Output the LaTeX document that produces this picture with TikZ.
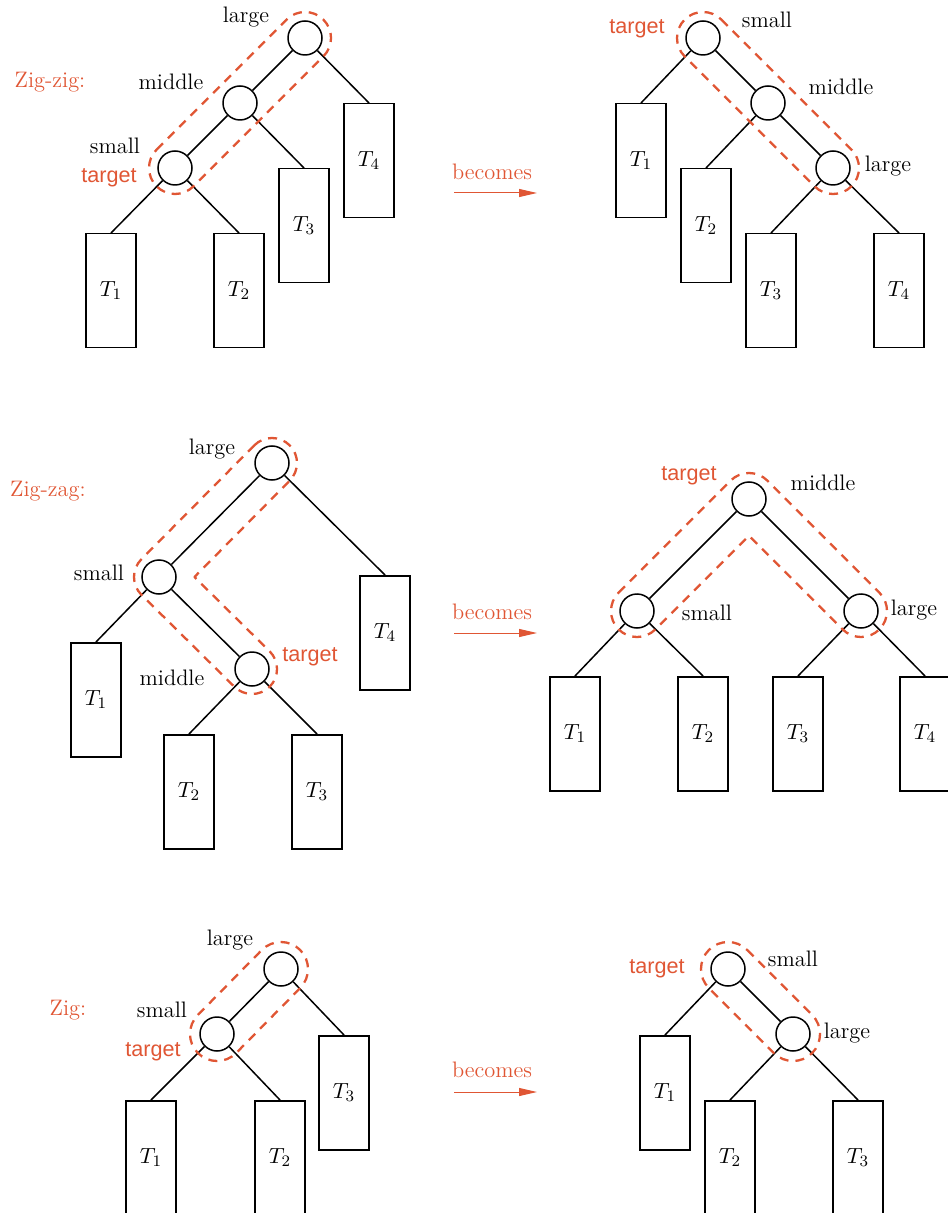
\documentclass[tikz,border=0pt]{standalone}
\usepackage{fontspec}
\setsansfont{Liberation Sans}
\usetikzlibrary{arrows.meta,calc}
\definecolor{splay}{RGB}{224,86,52}

\begin{document}
\begin{tikzpicture}[x=0.5pt,y=0.5pt,>={Triangle[length=9pt,width=4pt]},
  knot/.style={circle,draw,line width=0.75pt,minimum size=17pt,inner sep=0pt},
  subtree/.style={draw,line width=0.75pt,anchor=north,minimum width=25pt,minimum height=57pt,inner sep=0pt,font=\fontsize{11.2}{13}\selectfont},
  lbl/.style={font=\fontsize{11.2}{13}\selectfont},
  hot/.style={text=splay,font=\sffamily\fontsize{10.8}{13}\selectfont},
  zone/.style={draw=splay,line width=1.15pt,dash pattern=on 4.5pt off 3.5pt,line join=round},
  link/.style={line width=0.75pt}]
  \useasboundingbox (0,0) rectangle (947,-1213);

  % Zig-zig 左
  \node[lbl,text=splay] (zz) at (50,-82) {Zig-zig:};
  \node[knot] (zzL-l) at (305,-38) {};
  \node[knot] (zzL-m) at (240,-103) {};
  \node[knot] (zzL-s) at (175,-168) {};
  \node[subtree] (zzL-t1) at (111,-233) {$T_1$};
  \node[subtree] (zzL-t2) at (239,-233) {$T_2$};
  \node[subtree] (zzL-t3) at (304,-168) {$T_3$};
  \node[subtree] (zzL-t4) at (369,-103) {$T_4$};
  \draw[link] (zzL-l) -- (zzL-m) -- (zzL-s);
  \draw[link] (zzL-s) -- (zzL-t1.north);
  \draw[link] (zzL-s) -- (zzL-t2.north);
  \draw[link] (zzL-m) -- (zzL-t3.north);
  \draw[link] (zzL-l) -- (zzL-t4.north);
  \node[lbl] (zzL-nl) at (246,-17) {large};
  \node[lbl] (zzL-nm) at (171,-82) {middle};
  \node[lbl] (zzL-ns) at (115,-146) {small};
  \node[hot] (zzL-tg) at (109,-178) {target};
  \draw[zone] ($(zzL-s)+(135:26)$) -- ($(zzL-l)+(135:26)$) arc[start angle=135,end angle=-45,radius=26]
    -- ($(zzL-s)+(-45:26)$) arc[start angle=-45,end angle=-225,radius=26] -- cycle;

  % Zig-zig 右
  \node[lbl,text=splay] (zz-bc) at (492,-172) {becomes};
  \coordinate (zz-a) at (454,-193);
  \coordinate (zz-b) at (537,-193);
  \draw[->,splay,line width=0.5pt] (zz-a) -- (zz-b);
  \node[knot] (zzR-s) at (703,-38) {};
  \node[knot] (zzR-m) at (768,-103) {};
  \node[knot] (zzR-l) at (833,-168) {};
  \node[subtree] (zzR-t1) at (641,-103) {$T_1$};
  \node[subtree] (zzR-t2) at (706,-168) {$T_2$};
  \node[subtree] (zzR-t3) at (771,-233) {$T_3$};
  \node[subtree] (zzR-t4) at (899,-233) {$T_4$};
  \draw[link] (zzR-s) -- (zzR-m) -- (zzR-l);
  \draw[link] (zzR-s) -- (zzR-t1.north);
  \draw[link] (zzR-m) -- (zzR-t2.north);
  \draw[link] (zzR-l) -- (zzR-t3.north);
  \draw[link] (zzR-l) -- (zzR-t4.north);
  \node[lbl] (zzR-ns) at (767,-20) {small};
  \node[lbl] (zzR-nm) at (841,-87) {middle};
  \node[lbl] (zzR-nl) at (888,-166) {large};
  \node[hot] (zzR-tg) at (637,-29) {target};
  \draw[zone] ($(zzR-s)+(45:26)$) -- ($(zzR-l)+(45:26)$) arc[start angle=45,end angle=-135,radius=26]
    -- ($(zzR-s)+(-135:26)$) arc[start angle=225,end angle=45,radius=26] -- cycle;

  % Zig-zag 左
  \node[lbl,text=splay] (zg) at (48,-491) {Zig-zag:};
  \node[knot] (zgL-l) at (272,-463) {};
  \node[knot] (zgL-s) at (159,-577) {};
  \node[knot] (zgL-m) at (252,-669) {};
  \node[subtree] (zgL-t1) at (96,-642) {$T_1$};
  \node[subtree] (zgL-t2) at (189,-734) {$T_2$};
  \node[subtree] (zgL-t3) at (317,-734) {$T_3$};
  \node[subtree] (zgL-t4) at (385,-575) {$T_4$};
  \draw[link] (zgL-l) -- (zgL-s) -- (zgL-m);
  \draw[link] (zgL-s) -- (zgL-t1.north);
  \draw[link] (zgL-m) -- (zgL-t2.north);
  \draw[link] (zgL-m) -- (zgL-t3.north);
  \draw[link] (zgL-l) -- (zgL-t4.north);
  \node[lbl] (zgL-nl) at (212,-449) {large};
  \node[lbl] (zgL-ns) at (99,-573) {small};
  \node[lbl] (zgL-nm) at (172,-678) {middle};
  \node[hot] (zgL-tg) at (310,-657) {target};
  \draw[zone] ($(zgL-l)+(135:25)$) -- ($(zgL-s)+(135:25)$) arc[start angle=135,end angle=225,radius=25]
    -- ($(zgL-m)+(225:25)$) arc[start angle=225,end angle=405,radius=25]
    -- ($(zgL-s)+(0:35.4)$) -- ($(zgL-l)+(-45:25)$) arc[start angle=-45,end angle=135,radius=25] -- cycle;

  % Zig-zag 右
  \node[lbl,text=splay] (zg-bc) at (492,-612) {becomes};
  \coordinate (zg-a) at (454,-633);
  \coordinate (zg-b) at (537,-633);
  \draw[->,splay,line width=0.5pt] (zg-a) -- (zg-b);
  \node[knot] (zgR-m) at (749,-499) {};
  \node[knot] (zgR-s) at (637,-611) {};
  \node[knot] (zgR-l) at (861,-611) {};
  \node[subtree] (zgR-t1) at (575,-676) {$T_1$};
  \node[subtree] (zgR-t2) at (703,-676) {$T_2$};
  \node[subtree] (zgR-t3) at (798,-676) {$T_3$};
  \node[subtree] (zgR-t4) at (925,-676) {$T_4$};
  \draw[link] (zgR-s) -- (zgR-m) -- (zgR-l);
  \draw[link] (zgR-s) -- (zgR-t1.north);
  \draw[link] (zgR-s) -- (zgR-t2.north);
  \draw[link] (zgR-l) -- (zgR-t3.north);
  \draw[link] (zgR-l) -- (zgR-t4.north);
  \node[hot] (zgR-tg) at (689,-476) {target};
  \node[lbl] (zgR-nm) at (823,-483) {middle};
  \node[lbl] (zgR-ns) at (707,-613) {small};
  \node[lbl] (zgR-nl) at (914,-610) {large};
  \draw[zone] ($(zgR-s)+(135:26)$) -- ($(zgR-m)+(135:26)$) arc[start angle=135,end angle=45,radius=26]
    -- ($(zgR-l)+(45:26)$) arc[start angle=45,end angle=-135,radius=26]
    -- ($(zgR-m)+(270:36.8)$) -- ($(zgR-s)+(-45:26)$) arc[start angle=-45,end angle=-225,radius=26] -- cycle;

  % Zig 左
  \node[lbl,text=splay] (zi) at (68,-1010) {Zig:};
  \node[knot] (zL-l) at (281,-969) {};
  \node[knot] (zL-s) at (217,-1034) {};
  \node[subtree] (zL-t1) at (151,-1100) {$T_1$};
  \node[subtree] (zL-t2) at (280,-1100) {$T_2$};
  \node[subtree] (zL-t3) at (344,-1035) {$T_3$};
  \draw[link] (zL-l) -- (zL-s);
  \draw[link] (zL-s) -- (zL-t1.north);
  \draw[link] (zL-s) -- (zL-t2.north);
  \draw[link] (zL-l) -- (zL-t3.north);
  \node[lbl] (zL-nl) at (230,-940) {large};
  \node[lbl] (zL-ns) at (162,-1010) {small};
  \node[hot] (zL-tg) at (153,-1052) {target};
  \draw[zone] ($(zL-s)+(135:27)$) -- ($(zL-l)+(135:27)$) arc[start angle=135,end angle=-45,radius=27]
    -- ($(zL-s)+(-45:27)$) arc[start angle=-45,end angle=-225,radius=27] -- cycle;

  % Zig 右
  \node[lbl,text=splay] (zi-bc) at (492,-1070) {becomes};
  \coordinate (zi-a) at (454,-1092);
  \coordinate (zi-b) at (537,-1092);
  \draw[->,splay,line width=0.5pt] (zi-a) -- (zi-b);
  \node[knot] (zR-s) at (728,-969) {};
  \node[knot] (zR-l) at (793,-1034) {};
  \node[subtree] (zR-t1) at (665,-1035) {$T_1$};
  \node[subtree] (zR-t2) at (730,-1100) {$T_2$};
  \node[subtree] (zR-t3) at (858,-1100) {$T_3$};
  \draw[link] (zR-s) -- (zR-l);
  \draw[link] (zR-s) -- (zR-t1.north);
  \draw[link] (zR-l) -- (zR-t2.north);
  \draw[link] (zR-l) -- (zR-t3.north);
  \node[lbl] (zR-ns) at (793,-959) {small};
  \node[lbl] (zR-nl) at (847,-1033) {large};
  \node[hot] (zR-tg) at (657,-969) {target};
  \draw[zone] ($(zR-s)+(45:27)$) -- ($(zR-l)+(45:27)$) arc[start angle=45,end angle=-135,radius=27]
    -- ($(zR-s)+(-135:27)$) arc[start angle=225,end angle=45,radius=27] -- cycle;
\end{tikzpicture}
\end{document}
